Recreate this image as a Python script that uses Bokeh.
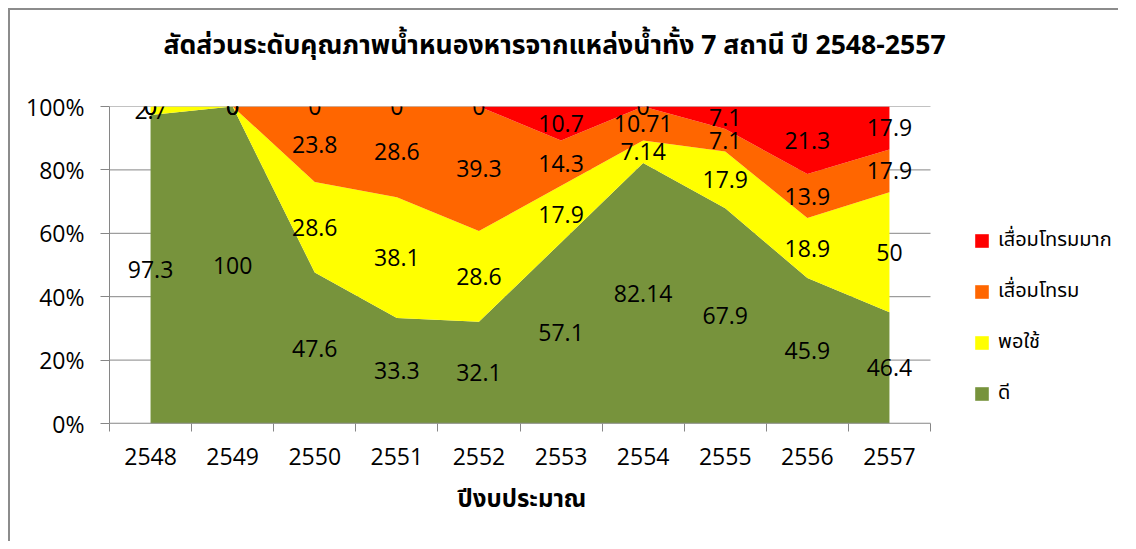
from bokeh.plotting import figure
from bokeh.models import (ColumnDataSource, FixedTicker, Legend, LegendItem, Title,
                          LabelSet, Range1d)
from bokeh.core.properties import value
from bokeh.embed import file_html
from bokeh.resources import INLINE

# ---------------- data ----------------
years = ["2548", "2549", "2550", "2551", "2552", "2553", "2554", "2555", "2556", "2557"]
good = [97.3, 100, 47.6, 33.3, 32.1, 57.1, 82.14, 67.9, 45.9, 46.4]        # ดี
fair = [2.7, 0, 28.6, 38.1, 28.6, 17.9, 7.14, 17.9, 18.9, 50]              # พอใช้
poor = [0, 0, 23.8, 28.6, 39.3, 14.3, 10.71, 7.1, 13.9, 17.9]              # เสื่อมโทรม
very_poor = [0, 0, 0, 0, 0, 10.7, 0, 7.1, 21.3, 17.9]                      # เสื่อมโทรมมาก

series_names = ["ดี", "พอใช้", "เสื่อมโทรม", "เสื่อมโทรมมาก"]
series_vals = [good, fair, poor, very_poor]
colors = ["#77933C", "#FFFF00", "#FF6600", "#FF0000"]
title_text = "สัดส่วนระดับคุณภาพน้ำหนองหารจากแหล่งน้ำทั้ง 7 สถานี ปี 2548-2557"
x_title = "ปีงบประมาณ"

NUM_FONT = "'Open Sans', 'Noto Sans Thai', Tahoma, sans-serif"
THAI_FONT = "'Noto Sans Thai', Tahoma, 'Open Sans', sans-serif"
GRAY = "#868686"

# ---------------- normalise to 100 % ----------------
n = len(years)
xs = list(range(n))
totals = [sum(s[i] for s in series_vals) for i in range(n)]
keys = ["s0", "s1", "s2", "s3"]
data = {"x": xs}
for k, s in zip(keys, series_vals):
    data[k] = [s[i] / totals[i] for i in range(n)]
src = ColumnDataSource(data)

# layout: the frame also covers the legend area on the right
W, H = 1110, 533
BL, BR, BT, BB = 99, 0, 96, 120
frame_w = W - BL - BR
plot_w = 821                      # width of the category area in px
x_end = -0.5 + n * frame_w / plot_w

p = figure(width=W, height=H, x_range=Range1d(-0.5, x_end), y_range=Range1d(0, 1),
           output_backend="svg", toolbar_location=None,
           min_border_left=BL, min_border_right=BR, min_border_top=BT, min_border_bottom=BB)
p.styles = {"margin-left": "8px", "margin-top": "8px",
            "border-top": "2px solid #8c8c8c", "border-left": "2px solid #8c8c8c"}
p.outline_line_color = None
p.background_fill_color = "white"
p.border_fill_color = "white"

yt = [0, 0.2, 0.4, 0.6, 0.8, 1.0]
# horizontal gridlines, limited to the category area
p.segment(x0=[-0.5] * len(yt), x1=[n - 0.5] * len(yt), y0=yt, y1=yt,
          line_color=GRAY, line_width=1)

renderers = p.varea_stack(stackers=keys, x="x", color=colors, source=src)

# x-axis baseline, limited to the category area
p.segment(x0=[-0.5], x1=[n - 0.5], y0=[0], y1=[0], line_color=GRAY, line_width=1.5)

# data labels at the middle of each band
lx, ly, lt = [], [], []
for j, (k, s) in enumerate(zip(keys, series_vals)):
    for i in range(n):
        below = sum(data[kk][i] for kk in keys[:j])
        lx.append(xs[i])
        ly.append(below + data[k][i] / 2)
        lt.append(f"{s[i]:g}")
lab_src = ColumnDataSource(dict(x=lx, y=ly, t=lt))
p.add_layout(LabelSet(x="x", y="y", text="t", source=lab_src, text_align="center",
                      text_baseline="middle", text_font_size="23px",
                      text_font=value(NUM_FONT), text_color="black"))

# axes
p.xaxis.ticker = FixedTicker(ticks=xs, minor_ticks=[i - 0.5 for i in range(n + 1)])
p.xaxis.major_label_overrides = {i: years[i] for i in xs}
p.xaxis.major_tick_line_color = None
p.xaxis.minor_tick_line_color = GRAY
p.xaxis.minor_tick_out = 8
p.xaxis.minor_tick_in = 0
p.xaxis.axis_line_color = None
p.xaxis.major_label_text_font = NUM_FONT
p.xaxis.major_label_text_font_size = "23px"
p.xaxis.major_label_text_color = "black"
p.xaxis.major_label_standoff = 16

p.yaxis.ticker = FixedTicker(ticks=yt)
p.yaxis.major_label_overrides = {v: f"{int(round(v * 100))}%" for v in yt}
p.yaxis.major_tick_line_color = GRAY
p.yaxis.major_tick_out = 9
p.yaxis.major_tick_in = 0
p.yaxis.minor_tick_line_color = None
p.yaxis.axis_line_color = GRAY
p.yaxis.major_label_text_font = NUM_FONT
p.yaxis.major_label_text_font_size = "23px"
p.yaxis.major_label_text_color = "black"
p.yaxis.major_label_standoff = 16

p.xgrid.grid_line_color = None
p.ygrid.grid_line_color = None

# x-axis title, centred under the category area
p.add_layout(Title(text=x_title, align="left", offset=348, standoff=28,
                   vertical_align="top", text_font_size="24px",
                   text_font=THAI_FONT, text_font_style="bold", text_color="black"), "below")

# chart title: a spacer panel next to the frame, then the title above it
p.add_layout(Title(text=" ", text_font_size="10px", standoff=28), "above")
p.add_layout(Title(text=title_text, align="left", offset=54, standoff=0,
                   vertical_align="bottom", text_font_size="26.6px",
                   text_font=THAI_FONT, text_font_style="bold", text_color="black"), "above")

# legend (inside the widened frame, right of the category area)
items = [LegendItem(label=series_names[j], renderers=[renderers[j]]) for j in [3, 2, 1, 0]]
legend = Legend(items=items, location=(864, 15), orientation="vertical",
                glyph_width=17, glyph_height=17, label_height=30, spacing=21,
                padding=0, margin=0, label_standoff=8,
                label_text_font=THAI_FONT, label_text_font_size="20px",
                label_text_color="black", border_line_color=None,
                background_fill_alpha=0)
p.add_layout(legend, "center")

open("out.html", "w").write(file_html(p, INLINE))
